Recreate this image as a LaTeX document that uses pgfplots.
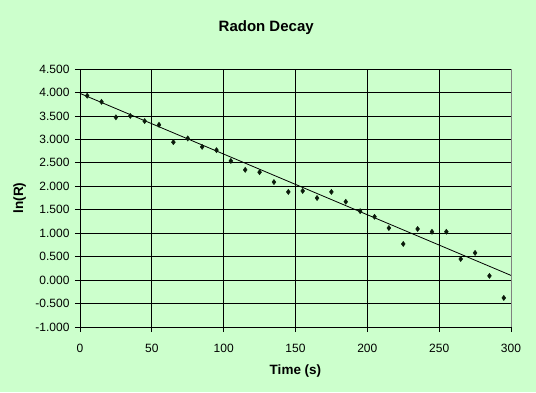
\documentclass[border=0pt]{standalone}
\usepackage{pgfplots}
\pgfplotsset{compat=1.18}
\usepackage{fontspec}
\setmainfont{Liberation Sans}
\definecolor{bg}{HTML}{CCFFCC}
\definecolor{mk}{HTML}{0A1A0A}
\begin{document}
\begin{tikzpicture}[x=1pt,y=1pt]
\fill[bg] (0,0) rectangle (536,392);
\begin{axis}[
  at={(80pt,65pt)}, anchor=south west,
  scale only axis, width=431pt, height=258pt,
  xmin=0, xmax=300, ymin=-1, ymax=4.5,
  xtick={0,50,...,300}, ytick={-1,-0.5,...,4.5},
  axis x line*=bottom, axis y line*=left,
  axis line style={black, line width=0.8pt, -},
  grid=major, major grid style={black, line width=0.8pt},
  tick align=outside, major tick length=5pt,
  tick style={black, line width=0.8pt},
  ticklabel style={font=\fontsize{12}{14}\selectfont},
  /pgf/number format/assume math mode=true,
  yticklabel style={xshift=-2pt, /pgf/number format/.cd, fixed, fixed zerofill, precision=3},
  xticklabel style={yshift=-9pt, /pgf/number format/.cd, fixed, precision=0},
  scaled ticks=false,
  clip=false,
  title={Radon Decay},
  title style={font=\bfseries\fontsize{15}{17}\selectfont, at={(axis description cs:0.432,1.136)}, anchor=center},
  xlabel={Time (s)},
  xlabel style={font=\bfseries\fontsize{13.5}{15}\selectfont, at={(axis description cs:0.5,-0.172)}, anchor=center},
  ylabel={ln(R)},
  ylabel style={font=\bfseries\fontsize{13.5}{15}\selectfont, at={(axis description cs:-0.14,0.5)}, anchor=center},
]
\addplot[only marks, mark=diamond*, mark size=2.6pt, mk] coordinates {
(5,3.93) (15,3.80) (25,3.47) (35,3.50) (45,3.39) (55,3.31) (65,2.94) (75,3.02)
(85,2.84) (95,2.77) (105,2.54) (115,2.35) (125,2.30) (135,2.09) (145,1.88) (155,1.90)
(165,1.75) (175,1.88) (185,1.67) (195,1.47) (205,1.35) (215,1.11) (225,0.77) (235,1.09)
(245,1.03) (255,1.03) (265,0.45) (275,0.58) (285,0.09) (295,-0.38)
};
\addplot[black, line width=0.8pt] coordinates {(0,3.98) (300,0.10)};
\draw[gray, line width=0.8pt] (rel axis cs:1,0) -- (rel axis cs:1,1);
\end{axis}
\end{tikzpicture}
\end{document}
